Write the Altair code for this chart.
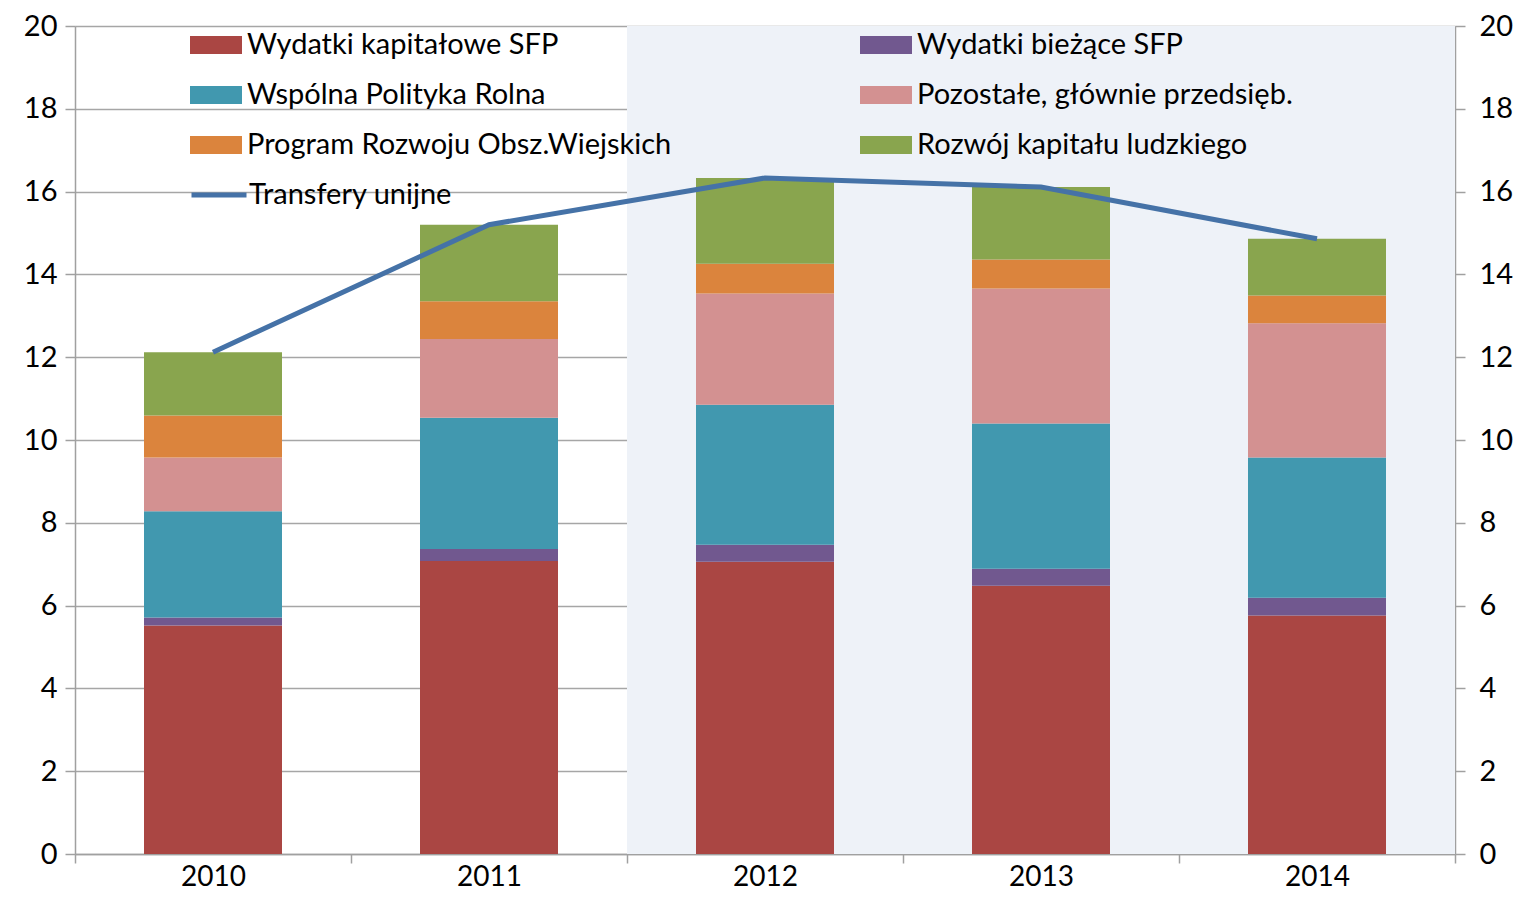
import altair as alt
import pandas as pd

years = ["2010", "2011", "2012", "2013", "2014"]
series_names = [
    "Wydatki kapitałowe SFP",
    "Wydatki bieżące SFP",
    "Wspólna Polityka Rolna",
    "Pozostałe, głównie przedsięb.",
    "Program Rozwoju Obsz.Wiejskich",
    "Rozwój kapitału ludzkiego",
]
line_name = "Transfery unijne"

kapitalowe = [5.52, 7.08, 7.06, 6.48, 5.76]
biezace = [0.19, 0.29, 0.41, 0.41, 0.43]
wpr = [2.57, 3.17, 3.38, 3.51, 3.39]
pozostale = [1.30, 1.90, 2.69, 3.26, 3.24]
prow = [1.01, 0.91, 0.72, 0.70, 0.67]
kapital_ludzki = [1.53, 1.85, 2.07, 1.75, 1.37]
transfery = [12.12, 15.20, 16.33, 16.11, 14.86]

shaded_years = ["2012", "2013", "2014"]

colors = ["#AA4643", "#71588F", "#4198AF", "#D39191", "#DB843D", "#89A54E"]
line_color = "#4572A7"

# legend is filled column by column: left column first, then right column
legend_order = [0, 2, 4, 1, 3, 5]

FONT = "Lato"
FS = 29
W, H = 1380, 828

all_vals = [kapitalowe, biezace, wpr, pozostale, prow, kapital_ludzki]
rows = []
for i, y in enumerate(years):
    for k, name in enumerate(series_names):
        rows.append({"year": y, "idx": i, "series": name, "order": k, "value": all_vals[k][i]})
df = pd.DataFrame(rows)

line_df = pd.DataFrame({"year": years, "idx": list(range(len(years))), "value": transfery,
                        "name": [line_name] * len(years)})

sh_idx = [years.index(y) for y in shaded_years]
shade_df = pd.DataFrame({"x0": [min(sh_idx)], "x1": [max(sh_idx) + 1], "y0": [0], "y1": [20]})

n = len(years)
xscale = alt.Scale(domain=[0, n], nice=False, zero=False)
yscale = alt.Scale(domain=[0, 20], nice=False)

year_arr = "[" + ",".join("'%s'" % y for y in years) + "]"
xaxis = alt.Axis(
    values=list(range(n + 1)),
    labelExpr=f"datum.value < {n} ? {year_arr}[datum.value] : ''",
    labelOffset=W / n / 2,
    labelFlush=False,
    labelOverlap=False,
    labelBound=False,
    grid=False,
    tickSize=9,
    tickColor="#a0a0a0",
    tickWidth=1.5,
    domainColor="#a0a0a0",
    domainWidth=1.5,
    labelFont=FONT,
    labelFontSize=28,
    labelColor="#000000",
    labelPadding=0,
    title=None,
)

yaxis_left = alt.Axis(
    values=list(range(0, 21, 2)),
    grid=True,
    gridColor="#a6a6a6",
    gridWidth=1.5,
    tickSize=10,
    tickColor="#a0a0a0",
    tickWidth=1.5,
    domainColor="#a0a0a0",
    domainWidth=1.5,
    labelFont=FONT,
    labelFontSize=FS,
    labelColor="#000000",
    labelPadding=8,
    title=None,
)
yaxis_right = alt.Axis(
    orient="right",
    values=list(range(0, 21, 2)),
    grid=False,
    tickSize=10,
    tickColor="#a0a0a0",
    tickWidth=1.5,
    domainColor="#a0a0a0",
    domainWidth=1.5,
    labelFont=FONT,
    labelFontSize=FS,
    labelColor="#000000",
    labelPadding=14,
    title=None,
)

shade = alt.Chart(shade_df).mark_rect(color="#EEF2F8").encode(
    x=alt.X("x0:Q", scale=xscale, axis=xaxis),
    x2="x1:Q",
    y=alt.Y("y0:Q", scale=yscale, axis=yaxis_left),
    y2="y1:Q",
)

rect_shape = "M-1,-0.35L1,-0.35L1,0.35L-1,0.35Z"

bar_legend = alt.Legend(
    title=None,
    orient="none",
    legendX=115,
    legendY=5,
    columns=2,
    columnPadding=188,
    rowPadding=21,
    clipHeight=28,
    symbolType=rect_shape,
    symbolSize=2704,
    symbolStrokeWidth=0,
    symbolOpacity=1,
    labelFont=FONT,
    labelFontSize=FS,
    labelColor="#000000",
    labelLimit=700,
    labelOffset=5,
    padding=0,
)

line_legend = alt.Legend(
    title=None,
    orient="none",
    legendX=114,
    legendY=155,
    clipHeight=28,
    symbolType="stroke",
    symbolSize=3025,
    symbolStrokeWidth=5,
    labelFont=FONT,
    labelFontSize=FS,
    labelColor="#000000",
    labelLimit=700,
    labelOffset=0,
    padding=0,
)

bars = (
    alt.Chart(df)
    .transform_stack(stack="value", groupby=["year"], as_=["y0", "y1"], sort=[alt.SortField("order")])
    .transform_calculate(xa="datum.idx + 0.25", xb="datum.idx + 0.75")
    .mark_bar()
    .encode(
        x=alt.X("xa:Q", scale=xscale, axis=xaxis),
        x2="xb:Q",
        y=alt.Y("y0:Q", scale=yscale, axis=None),
        y2="y1:Q",
        color=alt.Color(
            "series:N",
            scale=alt.Scale(domain=[series_names[k] for k in legend_order],
                            range=[colors[k] for k in legend_order]),
            legend=bar_legend,
        ),
    )
)

line = (
    alt.Chart(line_df)
    .transform_calculate(xc="datum.idx + 0.5")
    .mark_line(strokeWidth=5)
    .encode(
        x=alt.X("xc:Q", scale=xscale, axis=xaxis),
        y=alt.Y("value:Q", scale=yscale, axis=yaxis_right),
        stroke=alt.Stroke("name:N", scale=alt.Scale(domain=[line_name], range=[line_color]),
                          legend=line_legend),
    )
)

chart = (
    alt.layer(shade, bars, line)
    .resolve_scale(y="independent", color="independent", stroke="independent")
    .properties(
        width=W,
        height=H,
        autosize=alt.AutoSizeParams(type="none"),
        padding={"left": 67, "top": 18, "right": 58, "bottom": 37},
    )
    .configure_view(stroke=None)
    .configure(background="white")
)

chart.save("out.html", embed_options={"renderer": "svg", "actions": False})
